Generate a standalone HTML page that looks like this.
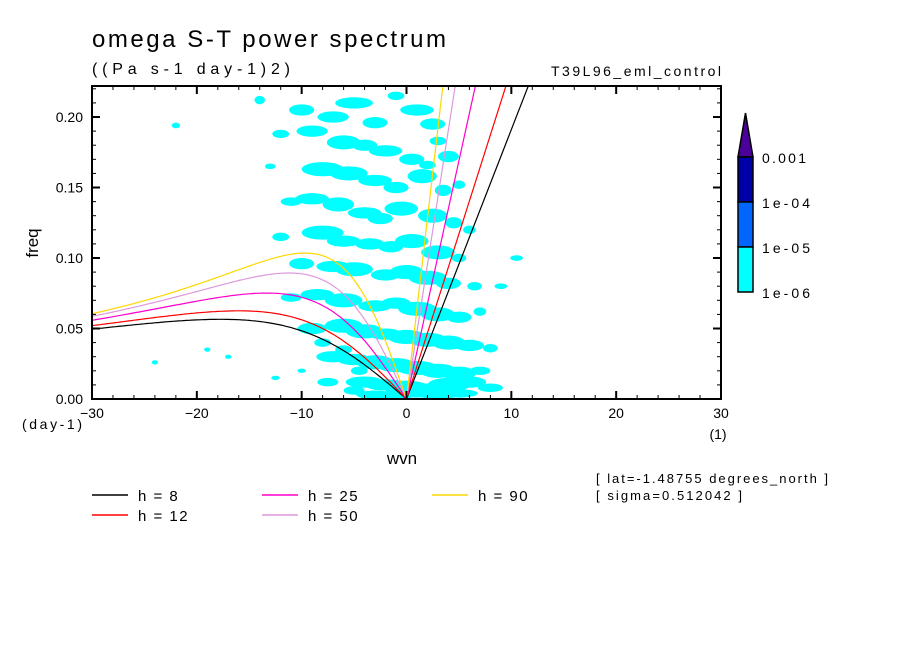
<!DOCTYPE html>
<html><head><meta charset="utf-8"><style>
body{margin:0;background:#fff;}
svg text{font-family:"Liberation Sans",sans-serif;fill:#000;}
</style></head><body>
<svg id="chart" width="904" height="654" viewBox="0 0 904 654">
<rect width="904" height="654" fill="#fff"/>
<text x="92" y="47" font-size="24" textLength="354" lengthAdjust="spacing">omega S-T power spectrum</text>
<text x="92" y="74" font-size="16" textLength="198" lengthAdjust="spacing">((Pa s-1 day-1)2)</text>
<text x="551" y="76" font-size="14" textLength="170" lengthAdjust="spacing">T39L96_eml_control</text>
<g id="blobs"></g>
<g id="curves"></g>
<rect x="92" y="86" width="629" height="313" fill="none" stroke="#000" stroke-width="2"/>
<g id="axes"></g>
<text x="38" y="243" font-size="17" text-anchor="middle" transform="rotate(-90 38 243)">freq</text>
<text x="402" y="464" font-size="17" text-anchor="middle">wvn</text>
<text x="22" y="429" font-size="14" textLength="60" lengthAdjust="spacing">(day-1)</text>
<text x="718" y="439" font-size="14" text-anchor="middle">(1)</text>
<text x="596" y="483" font-size="13" textLength="232" lengthAdjust="spacing">[ lat=-1.48755 degrees_north ]</text>
<text x="596" y="500" font-size="13" textLength="146" lengthAdjust="spacing">[ sigma=0.512042 ]</text>
<g id="legend"></g>
<g>
<polygon points="738,157 753,157 745.5,113" fill="#4b0099" stroke="#000" stroke-width="1.5"/>
<rect x="738" y="157" width="15" height="45" fill="#0000a8" stroke="#000" stroke-width="1.5"/>
<rect x="738" y="202" width="15" height="45" fill="#0066ff" stroke="#000" stroke-width="1.5"/>
<rect x="738" y="247" width="15" height="45" fill="#00ffff" stroke="#000" stroke-width="1.5"/>
<text x="762" y="163" font-size="14" textLength="44" lengthAdjust="spacing">0.001</text>
<text x="762" y="208" font-size="14" textLength="48" lengthAdjust="spacing">1e-04</text>
<text x="762" y="253" font-size="14" textLength="48" lengthAdjust="spacing">1e-05</text>
<text x="762" y="298" font-size="14" textLength="48" lengthAdjust="spacing">1e-06</text>
</g>
</svg>
<script>
const xTicks=[-30,-20,-10,0,10,20,30];
const yTicks=[0.00,0.05,0.10,0.15,0.20];
const depths=[8,12,25,50,90];
const curveColors=["#000000","#ff0000","#ff00cc","#dd99dd","#ffd700"];
// blobs: [wvn, freq, half-width (wvn), half-height (freq)]
const blobWvn=[-22,-14,-10,-7,-5,-3,-1,1,2.5,3,-12,-9,-6,-4,-2,0.5,2,4,-13,-8,-5.5,-3,-1,1.5,3.5,5,-11,-9,-6.5,-4,-2.5,-0.5,2.5,4.5,6,-12,-8,-6,-3.5,-1.5,0.5,3,5,-10,-7,-5,-2,0,2,4,6.5,-11,-8.5,-6,-3,-1,1,3,5,7,-9,-6,-4,-2,0,2,4,6,8,-7,-5,-3,-1,1,3,5,7,-4,-2,0,2,4,6,8,-3,-1,1,3,5,9,10.5,-19,-17,-24,-12.5,-10,-8,-6,-4.5,-7.5,-5];
const blobFreq=[0.194,0.212,0.205,0.2,0.21,0.196,0.215,0.205,0.195,0.183,0.188,0.19,0.182,0.18,0.176,0.17,0.166,0.172,0.165,0.163,0.16,0.155,0.15,0.158,0.148,0.152,0.14,0.142,0.138,0.132,0.128,0.135,0.13,0.125,0.12,0.115,0.118,0.112,0.11,0.108,0.112,0.104,0.1,0.096,0.094,0.092,0.088,0.09,0.086,0.082,0.08,0.072,0.074,0.07,0.066,0.068,0.064,0.06,0.058,0.062,0.05,0.052,0.048,0.046,0.044,0.042,0.04,0.038,0.036,0.03,0.028,0.026,0.024,0.022,0.02,0.018,0.02,0.012,0.01,0.008,0.006,0.01,0.012,0.008,0.003,0.003,0.004,0.003,0.004,0.08,0.1,0.035,0.03,0.026,0.015,0.02,0.04,0.035,0.02,0.012,0.006];
const blobW=[0.4,0.5,1.2,1.5,1.8,1.2,0.8,1.6,1.2,0.8,0.8,1.5,1.6,1.2,1.6,1.2,0.8,1,0.5,2,1.8,1.6,1.2,1.4,0.8,0.6,1,1.6,1.5,1.6,1.2,1.6,1.4,0.8,0.6,0.8,2,1.6,1.4,1.2,1.6,1.6,0.7,1.2,1.6,1.8,1.4,1.6,1.8,1.2,0.7,1,1.6,1.8,1.6,1.4,1.8,1.6,1.2,0.6,1.4,1.8,1.8,1.6,1.8,1.8,1.6,1.4,0.7,1.6,1.6,1.8,1.8,2,1.8,1.6,1,1.8,2,2.2,2.2,2,1.6,1.2,1.8,2,2,2,1.8,0.6,0.6,0.3,0.3,0.3,0.4,0.4,0.8,0.8,0.8,1,1];
const blobH=[0.002,0.003,0.004,0.004,0.004,0.004,0.003,0.004,0.004,0.003,0.003,0.004,0.005,0.004,0.004,0.004,0.003,0.004,0.002,0.005,0.005,0.004,0.004,0.005,0.004,0.003,0.003,0.004,0.005,0.004,0.004,0.005,0.005,0.004,0.003,0.003,0.005,0.004,0.004,0.004,0.005,0.005,0.003,0.004,0.004,0.005,0.004,0.005,0.005,0.004,0.003,0.003,0.004,0.005,0.004,0.004,0.005,0.005,0.004,0.003,0.004,0.005,0.005,0.004,0.005,0.005,0.005,0.004,0.003,0.004,0.004,0.005,0.005,0.005,0.005,0.005,0.003,0.004,0.004,0.005,0.005,0.005,0.004,0.003,0.003,0.003,0.003,0.003,0.003,0.002,0.002,0.0015,0.0015,0.0015,0.0015,0.0015,0.003,0.003,0.003,0.003,0.003];
const NS="http://www.w3.org/2000/svg";
const X0=92,X1=721,Y0=399,YT=86,xmin=-30,xmax=30,ymax=0.222;
const sx=v=>X0+(v-xmin)/(xmax-xmin)*(X1-X0);
const sy=v=>Y0-v/ymax*(Y0-YT);
function mk(t,a,p){const e=document.createElementNS(NS,t);for(const k in a)e.setAttribute(k,a[k]);p.appendChild(e);return e;}
const gb=document.getElementById('blobs');
blobWvn.forEach((w,i)=>{
 const e=mk('ellipse',{cx:sx(w),cy:sy(blobFreq[i]),rx:blobW[i]*(X1-X0)/60,ry:blobH[i]/ymax*(Y0-YT),fill:'#00ffff'},gb);
 
 
});
const g=9.8,R=6.371e6,beta=2*7.292e-5/R,cpd=86400/(2*Math.PI);
const gc=document.getElementById('curves');
const clip=mk('clipPath',{id:'pc'},gc);mk('rect',{x:X0,y:YT,width:X1-X0,height:Y0-YT},clip);
depths.forEach((h,i)=>{
 const c=Math.sqrt(g*h);
 let pts=[];
 for(let w=-30;w<=0.001;w+=0.25){const k=w/R;const om=-beta*k/(k*k+3*beta/c);pts.push(sx(w).toFixed(1)+','+sy(om*cpd).toFixed(1));}
 const r=mk('polyline',{points:pts.join(' '),fill:'none',stroke:curveColors[i],'stroke-width':1.2,'clip-path':'url(#pc)'},gc);
 
 
 const wEnd=30,kE=wEnd/R;
 const l=mk('line',{x1:sx(0),y1:sy(0),x2:sx(wEnd),y2:sy(c*kE*cpd),stroke:curveColors[i],'stroke-width':1.2,'clip-path':'url(#pc)'},gc);
 
 
});
const ga=document.getElementById('axes');
for(let v=-30;v<=30;v+=2){const maj=v%10===0;const L=maj?8:4;
 mk('line',{x1:sx(v),y1:Y0,x2:sx(v),y2:Y0-L,stroke:'#000','stroke-width':maj?2:1},ga);
 mk('line',{x1:sx(v),y1:YT,x2:sx(v),y2:YT+L,stroke:'#000','stroke-width':maj?2:1},ga);}
for(let j=0;j<=22;j++){const v=j*0.01;const maj=j%5===0;const L=maj?8:4;
 mk('line',{x1:X0,y1:sy(v),x2:X0+L,y2:sy(v),stroke:'#000','stroke-width':maj?2:1},ga);
 mk('line',{x1:X1,y1:sy(v),x2:X1-L,y2:sy(v),stroke:'#000','stroke-width':maj?2:1},ga);}
xTicks.forEach(v=>{const t=mk('text',{x:sx(v),y:418,'font-size':14,'text-anchor':'middle'},ga);t.textContent=(v<0?'\u2212':'')+Math.abs(v);
 
 });
yTicks.forEach(v=>{const t=mk('text',{x:83,y:sy(v)+5,'font-size':14,'text-anchor':'end'},ga);t.textContent=v.toFixed(2);
 
 });
const gl=document.getElementById('legend');
const legPos=[[92,495],[92,515],[262,495],[262,515],[432,495]];
depths.forEach((h,i)=>{const [x,y]=legPos[i];
 mk('line',{x1:x,y1:y,x2:x+36,y2:y,stroke:curveColors[i],'stroke-width':1.5},gl);
 const t=mk('text',{x:x+46,y:y+6,'font-size':15,'letter-spacing':'1.5','xml:space':'preserve'},gl);t.textContent='h = '+(h<10?' ':'')+h;
 
 });
</script>
</body></html>
